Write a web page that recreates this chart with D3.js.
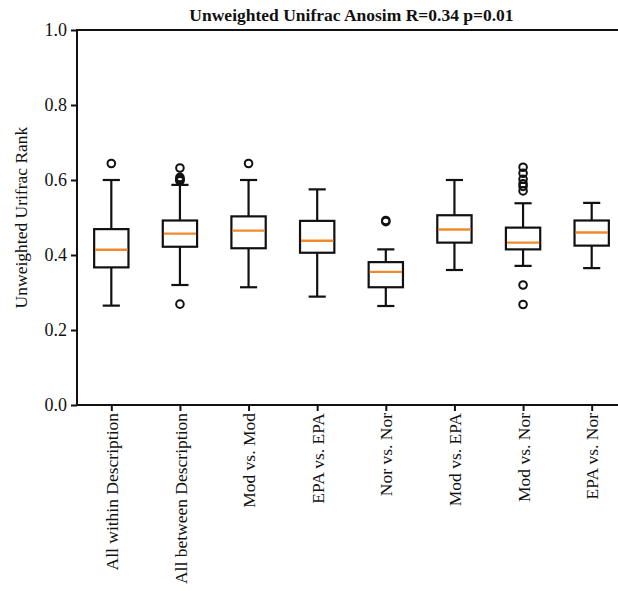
<!DOCTYPE html>
<html>
<head>
<meta charset="utf-8">
<script src="https://cdn.jsdelivr.net/npm/d3@7/dist/d3.min.js"></script>
<style>
  html, body { margin: 0; padding: 0; background: #fff; }
  svg { display: block; }
  text { font-family: "Liberation Serif", "Times New Roman", serif; fill: #111; }
</style>
</head>
<body>
<svg id="chart" width="618" height="591"></svg>
<script>
// Groups compared by ANOSIM on unweighted UniFrac ranks
const categories = [
  "All within Description", "All between Description", "Mod vs. Mod", "EPA vs. EPA",
  "Nor vs. Nor", "Mod vs. EPA", "Mod vs. Nor", "EPA vs. Nor"
];
// Five-number summaries per group (rank scaled to 0..1)
const whiskerLow  = [0.265, 0.320, 0.314, 0.289, 0.264, 0.360, 0.371, 0.365];
const q1          = [0.367, 0.422, 0.418, 0.406, 0.314, 0.433, 0.415, 0.425];
const median      = [0.414, 0.457, 0.465, 0.438, 0.355, 0.468, 0.433, 0.460];
const q3          = [0.469, 0.492, 0.503, 0.491, 0.381, 0.506, 0.473, 0.492];
const whiskerHigh = [0.600, 0.587, 0.600, 0.575, 0.415, 0.600, 0.538, 0.539];
// Outlying points per group
const fliers = [
  [0.644],
  [0.632, 0.607, 0.603, 0.600, 0.598, 0.269],
  [0.644],
  [],
  [0.492, 0.489],
  [],
  [0.634, 0.618, 0.602, 0.590, 0.583, 0.571, 0.320, 0.268],
  []
];
const yTicks = [0.0, 0.2, 0.4, 0.6, 0.8, 1.0];
const title = "Unweighted Unifrac Anosim R=0.34 p=0.01";
const yLabel = "Unweighted Urifrac Rank";

const svg = d3.select("#chart");
const plotL = 77, plotT = 30, plotB = 405, plotR = 626;

const x = d3.scalePoint().domain(categories).range([plotL, plotR]).padding(0.5);
const y = d3.scaleLinear().domain([0, 1]).range([plotB, plotT]);
const boxW = x.step() * 0.5;
const capW = x.step() * 0.25;

const boxes = categories.map((c, i) => ({
  c, lo: whiskerLow[i], q1: q1[i], med: median[i], q3: q3[i], hi: whiskerHigh[i], fl: fliers[i]
}));

// Axes
const yAxis = d3.axisLeft(y).tickValues(yTicks).tickFormat(d3.format(".1f")).tickSizeOuter(0).tickSize(6).tickPadding(4);
const gy = svg.append("g").attr("transform", `translate(${plotL},0)`).call(yAxis);
gy.select(".domain").remove();
gy.selectAll(".tick line").attr("stroke", "#111").attr("stroke-width", 2);
gy.selectAll(".tick text").style("font-size", "18px").attr("fill", "#111");

const xAxis = d3.axisBottom(x).tickSizeOuter(0).tickSize(6).tickPadding(8);
const gx = svg.append("g").attr("transform", `translate(0,${plotB})`).call(xAxis);
gx.select(".domain").remove();
gx.selectAll(".tick line").attr("stroke", "#111").attr("stroke-width", 2);
gx.selectAll(".tick text")
  .style("font-size", "17.5px")
  .attr("fill", "#111")
  .attr("text-anchor", "end")
  .attr("dy", "0.35em")
  .attr("transform", "rotate(-90)")
  .attr("x", -8).attr("y", 0);

// Spines: left, top and bottom
const spine = svg.append("g").attr("stroke", "#111").attr("stroke-width", 2).attr("fill", "none");
spine.append("line").attr("x1", plotL).attr("x2", plotL).attr("y1", plotT - 1).attr("y2", plotB + 1);
spine.append("line").attr("x1", plotL - 1).attr("x2", 630).attr("y1", plotT).attr("y2", plotT);
spine.append("line").attr("x1", plotL - 1).attr("x2", 630).attr("y1", plotB).attr("y2", plotB);

// Boxes
const g = svg.append("g").attr("fill", "none").attr("stroke", "#111").attr("stroke-width", 2.2);
const b = g.selectAll("g.box").data(boxes).join("g").attr("class", "box");
b.append("line").attr("x1", d => x(d.c)).attr("x2", d => x(d.c)).attr("y1", d => y(d.q3)).attr("y2", d => y(d.hi));
b.append("line").attr("x1", d => x(d.c)).attr("x2", d => x(d.c)).attr("y1", d => y(d.q1)).attr("y2", d => y(d.lo));
b.append("line").attr("x1", d => x(d.c) - capW / 2).attr("x2", d => x(d.c) + capW / 2).attr("y1", d => y(d.hi)).attr("y2", d => y(d.hi));
b.append("line").attr("x1", d => x(d.c) - capW / 2).attr("x2", d => x(d.c) + capW / 2).attr("y1", d => y(d.lo)).attr("y2", d => y(d.lo));
b.append("rect")
  .attr("x", d => x(d.c) - boxW / 2).attr("width", boxW)
  .attr("y", d => y(d.q3)).attr("height", d => y(d.q1) - y(d.q3));
b.append("line").attr("stroke", "#ef8a2c").attr("stroke-width", 2.4)
  .attr("x1", d => x(d.c) - boxW / 2 + 1).attr("x2", d => x(d.c) + boxW / 2 - 1)
  .attr("y1", d => y(d.med)).attr("y2", d => y(d.med));
b.selectAll("circle").data(d => d.fl.map(v => ({ c: d.c, v }))).join("circle")
  .attr("cx", d => x(d.c)).attr("cy", d => y(d.v)).attr("r", 3.8).attr("stroke-width", 2);

// Title and y label
svg.append("text").attr("x", (plotL + plotR) / 2).attr("y", 21)
  .attr("text-anchor", "middle").style("font-size", "17.5px").style("font-weight", "bold").text(title);
svg.append("text").attr("transform", `translate(27,${(plotT + plotB) / 2}) rotate(-90)`)
  .attr("text-anchor", "middle").style("font-size", "17.5px").text(yLabel);
</script>
</body>
</html>
